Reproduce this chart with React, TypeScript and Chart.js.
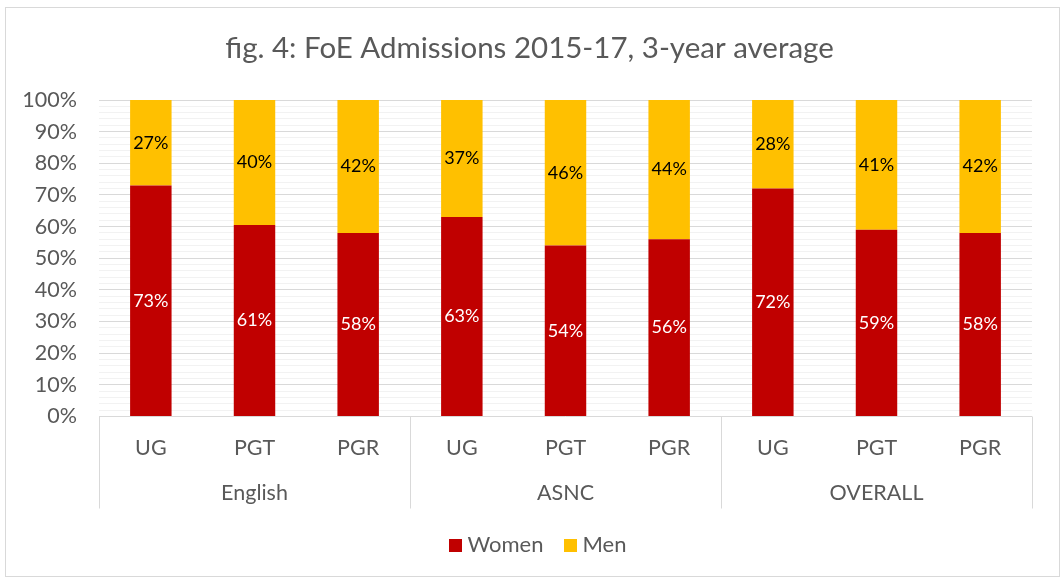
import React, { useEffect, useRef } from "react";
import { Chart, registerables } from "chart.js";

Chart.register(...registerables);

const categories = ["UG", "PGT", "PGR", "UG", "PGT", "PGR", "UG", "PGT", "PGR"];
const groups = ["English", "ASNC", "OVERALL"];
const groupSize = 3;
const women = [73, 60.5, 58, 63, 54, 56, 72, 59, 58];
const men = [27, 39.5, 42, 37, 46, 44, 28, 41, 42];
const seriesNames = ["Women", "Men"];
const seriesColors = ["#C00000", "#FFC000"];
const titleText = "fig. 4: FoE Admissions 2015-17, 3-year average";
const FONT = "Lato, 'Open Sans', sans-serif";
const GRAY_TEXT = "#595959";

const W = 1064;
const H = 581;

const dataLabelPlugin = {
  id: "dataLabels",
  afterDatasetsDraw(chart: any) {
    const ctx = chart.ctx;
    ctx.save();
    ctx.font = `18px ${FONT}`;
    ctx.textAlign = "center";
    ctx.textBaseline = "middle";
    chart.data.datasets.forEach((ds: any, di: number) => {
      const meta = chart.getDatasetMeta(di);
      meta.data.forEach((bar: any, i: number) => {
        const v = ds.data[i];
        const { x, y, base } = bar.getProps(["x", "y", "base"], true);
        ctx.fillStyle = di === 0 ? "#ffffff" : "#000000";
        ctx.fillText(Math.round(v) + "%", x, (y + base) / 2);
      });
    });
    ctx.restore();
  },
};

const decorPlugin = {
  id: "decor",
  afterDraw(chart: any) {
    const ctx = chart.ctx;
    const xs = chart.scales.x;
    const area = chart.chartArea;
    const top = area.bottom;
    const bottom = area.bottom + 92;
    const step = (area.right - area.left) / categories.length;
    ctx.save();
    // group separators
    ctx.strokeStyle = "#d9d9d9";
    ctx.lineWidth = 1;
    for (let g = 0; g <= groups.length; g++) {
      const x = Math.round(area.left + g * groupSize * step) + 0.5;
      ctx.beginPath();
      ctx.moveTo(x, top);
      ctx.lineTo(x, bottom);
      ctx.stroke();
    }
    // group labels
    ctx.font = `21.5px ${FONT}`;
    ctx.fillStyle = GRAY_TEXT;
    ctx.textAlign = "center";
    ctx.textBaseline = "middle";
    groups.forEach((g, gi) => {
      const x0 = xs.getPixelForValue(gi * groupSize);
      const x1 = xs.getPixelForValue(gi * groupSize + groupSize - 1);
      ctx.fillText(g, (x0 + x1) / 2, area.bottom + 77);
    });
    // title
    ctx.font = `29.5px ${FONT}`;
    ctx.fillText(titleText, 529.5, 48);
    // legend
    ctx.font = `22px ${FONT}`;
    const box = 13;
    const gap = 6;
    const itemGap = 20;
    const widths = seriesNames.map((n) => ctx.measureText(n).width);
    const total = widths.reduce((a, w) => a + box + gap + w, 0) + itemGap * (seriesNames.length - 1);
    let x = 537.5 - total / 2;
    const cy = 545;
    ctx.textAlign = "left";
    seriesNames.forEach((n, i) => {
      ctx.fillStyle = seriesColors[i];
      ctx.fillRect(Math.round(x), Math.round(cy - box / 2), box, box);
      x += box + gap;
      ctx.fillStyle = GRAY_TEXT;
      ctx.fillText(n, x, cy);
      x += widths[i] + itemGap;
    });
    ctx.restore();
  },
};

export default function App() {
  const ref = useRef<HTMLCanvasElement>(null);
  useEffect(() => {
    if (!ref.current) return;
    const chart = new Chart(ref.current, {
      type: "bar",
      data: {
        labels: categories,
        datasets: [
          { label: seriesNames[0], data: women, backgroundColor: seriesColors[0], barPercentage: 0.4, categoryPercentage: 1 },
          { label: seriesNames[1], data: men, backgroundColor: seriesColors[1], barPercentage: 0.4, categoryPercentage: 1 },
        ],
      },
      options: {
        responsive: false,
        animation: false,
        devicePixelRatio: 1,
        layout: { padding: { left: 5, right: 32, top: 100, bottom: 56 } },
        plugins: {
          title: { display: false },
          legend: { display: false },
          tooltip: { enabled: false },
        },
        scales: {
          x: {
            stacked: true,
            grid: { display: false, drawTicks: false },
            border: { display: false },
            ticks: { color: GRAY_TEXT, font: { family: FONT, size: 21.5 }, padding: 18.5 },
            afterFit: (s: any) => {
              s.height = 108.5;
            },
          },
          y: {
            stacked: true,
            min: 0,
            max: 100,
            border: { display: false },
            grid: {
              drawTicks: false,
              color: (c: any) => (c.tick && c.tick.value % 10 === 0 ? "#d9d9d9" : "#f2f2f2"),
            },
            ticks: {
              stepSize: 2,
              autoSkip: false,
              padding: 22,
              color: GRAY_TEXT,
              font: { family: FONT, size: 21.5 },
              callback: (v: any) => (Number(v) % 10 === 0 ? v + "%" : ""),
            },
            afterFit: (s: any) => {
              s.width = 94;
            },
          },
        },
      },
      plugins: [dataLabelPlugin, decorPlugin],
    });
    return () => chart.destroy();
  }, []);
  return (
    <div style={{ position: "absolute", left: 0, top: 0, width: W, height: H, background: "#fff" }}>
      <div
        style={{
          position: "absolute",
          left: 5,
          top: 7,
          width: 1055,
          height: 570,
          border: "1px solid #d9d9d9",
          boxSizing: "border-box",
        }}
      />
      <canvas ref={ref} width={W} height={H} style={{ position: "absolute", left: 0, top: 0 }} />
    </div>
  );
}
